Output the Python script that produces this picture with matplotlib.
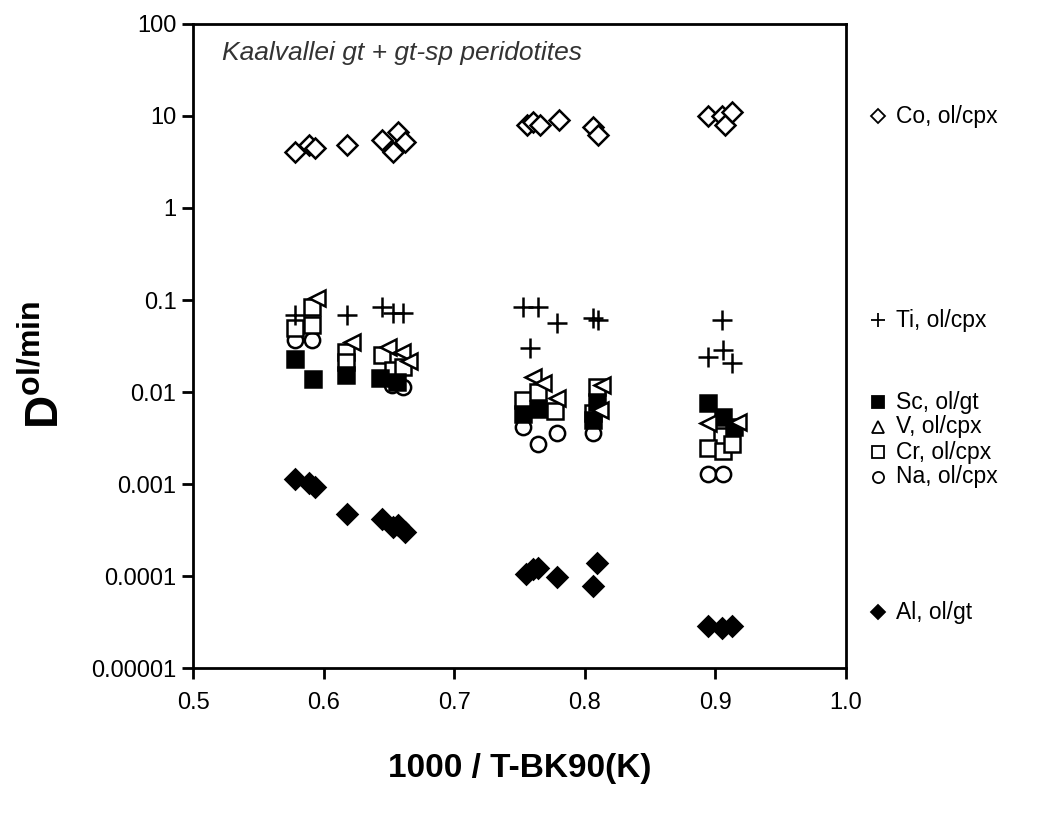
import matplotlib
matplotlib.use("Agg")
import matplotlib.pyplot as plt
from matplotlib.lines import Line2D

plt.rcParams['font.family'] = ['Liberation Sans', 'DejaVu Sans']
plt.rcParams['mathtext.fontset'] = 'custom'
plt.rcParams['mathtext.bf'] = 'Liberation Sans:bold'
plt.rcParams['mathtext.rm'] = 'Liberation Sans'

# values (x = 1000/T, y = D ol/min)
co_x = [0.578, 0.589, 0.593, 0.618, 0.645, 0.653, 0.657, 0.662,
        0.756, 0.760, 0.766, 0.780, 0.806, 0.810,
        0.894, 0.905, 0.907, 0.913]
co_y = [4.06, 4.84, 4.49, 4.84, 5.49, 4.06, 6.70, 5.21,
        8.0, 8.6, 8.0, 9.06, 7.6, 6.2,
        10.0, 10.0, 8.0, 11.0]

ti_x = [0.578, 0.618, 0.645, 0.653, 0.661,
        0.753, 0.764, 0.779, 0.758, 0.806, 0.810,
        0.905, 0.894, 0.906, 0.913]
ti_y = [0.069, 0.069, 0.084, 0.072, 0.072,
        0.084, 0.084, 0.056, 0.030, 0.064, 0.061,
        0.061, 0.024, 0.0285, 0.0208]

sc_x = [0.578, 0.592, 0.617, 0.643, 0.656,
        0.753, 0.764, 0.809, 0.806,
        0.894, 0.906, 0.914]
sc_y = [0.023, 0.0138, 0.0153, 0.0142, 0.013,
        0.0058, 0.0065, 0.0078, 0.0050,
        0.0077, 0.0054, 0.0042]

v_x = [0.595, 0.622, 0.649, 0.660, 0.665,
       0.760, 0.768, 0.779, 0.813, 0.812,
       0.894, 0.917]
v_y = [0.105, 0.035, 0.031, 0.027, 0.022,
       0.0146, 0.0126, 0.0086, 0.0118, 0.0064,
       0.0046, 0.0047]

cr_x = [0.578, 0.591, 0.591, 0.617, 0.617, 0.645, 0.653, 0.661,
        0.753, 0.764, 0.777, 0.809, 0.806,
        0.905, 0.894, 0.906, 0.913]
cr_y = [0.050, 0.053, 0.084, 0.027, 0.021, 0.025, 0.0173, 0.0187,
        0.0082, 0.010, 0.0062, 0.0113, 0.0059,
        0.0033, 0.0025, 0.0023, 0.0027]

na_x = [0.578, 0.591, 0.652, 0.661,
        0.753, 0.764, 0.779, 0.806,
        0.894, 0.906]
na_y = [0.037, 0.037, 0.0119, 0.0113,
        0.0042, 0.0027, 0.0036, 0.0036,
        0.00128, 0.0013]

al_x = [0.578, 0.589, 0.593, 0.618, 0.645, 0.653, 0.657, 0.662,
        0.755, 0.760, 0.764, 0.779, 0.806, 0.809,
        0.894, 0.905, 0.913]
al_y = [0.00113, 0.00103, 0.00093, 0.00048, 0.00042, 0.00034, 0.00036, 0.00030,
        0.000105, 0.00012, 0.000122, 0.0000975, 0.0000778, 0.000138,
        0.0000286, 0.0000272, 0.0000286]

y_ticks = [1e-5, 1e-4, 1e-3, 1e-2, 1e-1, 1, 10, 100]
y_tick_labels = ['0.00001', '0.0001', '0.001', '0.01', '0.1', '1', '10', '100']
x_ticks = [0.5, 0.6, 0.7, 0.8, 0.9, 1.0]
x_tick_labels = ['0.5', '0.6', '0.7', '0.8', '0.9', '1.0']

legend_labels = ['Co, ol/cpx', 'Ti, ol/cpx', 'Sc, ol/gt', 'V, ol/cpx',
                 'Cr, ol/cpx', 'Na, ol/cpx', 'Al, ol/gt']

fig = plt.figure(figsize=(10.38, 8.23), dpi=100)
ax = fig.add_axes([0.186, 0.188, 0.629, 0.783])

lw = 1.8
ax.plot(na_x, na_y, 'o', ms=11, mfc='white', mec='black', mew=lw, ls='none')
ax.plot(cr_x, cr_y, 's', ms=11, mfc='white', mec='black', mew=lw, ls='none')
ax.plot(sc_x, sc_y, 's', ms=11, mfc='black', mec='black', mew=lw, ls='none')
ax.plot(v_x, v_y, '<', ms=12, mfc='white', mec='black', mew=lw, ls='none')
ax.plot(ti_x, ti_y, '+', ms=14, mec='black', mew=lw, ls='none')
ax.plot(co_x, co_y, 'D', ms=10, mfc='white', mec='black', mew=lw, ls='none')
ax.plot(al_x, al_y, 'D', ms=10, mfc='black', mec='black', mew=lw, ls='none')

ax.set_yscale('log')
ax.set_xlim(0.5, 1.0)
ax.set_ylim(1e-5, 100)
ax.set_yticks(y_ticks)
ax.set_yticklabels(y_tick_labels)
ax.minorticks_off()
ax.set_xticks(x_ticks)
ax.set_xticklabels(x_tick_labels)
ax.tick_params(direction='out', length=8, width=2, labelsize=17, pad=4)
ax.tick_params(axis='x', pad=9)
for s in ax.spines.values():
    s.set_linewidth(2)

ax.text(0.045, 0.955, 'Kaalvallei gt + gt-sp peridotites', transform=ax.transAxes,
        fontsize=19, style='italic', color='#333333', va='center')

ax.set_xlabel('1000 / T-BK90(K)', fontsize=24, fontweight='bold', labelpad=28)
fig.text(0.045, 0.556, r'D$^{\mathbf{ol/min}}$', ha='center', va='center',
         rotation=90, fontsize=33, fontweight='bold')

# legend drawn by hand at the reference positions (figure pixels)
leg_y = [116, 320, 402, 427, 452, 477, 612]
leg_styles = [dict(marker='D', ms=7, mfc='white', mew=1.3),
              dict(marker='+', ms=10, mew=1.3),
              dict(marker='s', ms=8, mfc='black', mew=1.3),
              dict(marker='^', ms=8, mfc='white', mew=1.3),
              dict(marker='s', ms=8, mfc='white', mew=1.3),
              dict(marker='o', ms=8, mfc='white', mew=1.3),
              dict(marker='D', ms=7, mfc='black', mew=1.3)]
W, H = 1038, 823
for yy, lab, st in zip(leg_y, legend_labels, leg_styles):
    fy = 1 - yy / H
    fig.add_artist(Line2D([878 / W], [fy], transform=fig.transFigure,
                          ls='none', mec='black', color='black', **st))
    fig.text(896 / W, fy, lab, fontsize=16.5, va='center', ha='left')

fig.savefig('out.png', dpi=100)
